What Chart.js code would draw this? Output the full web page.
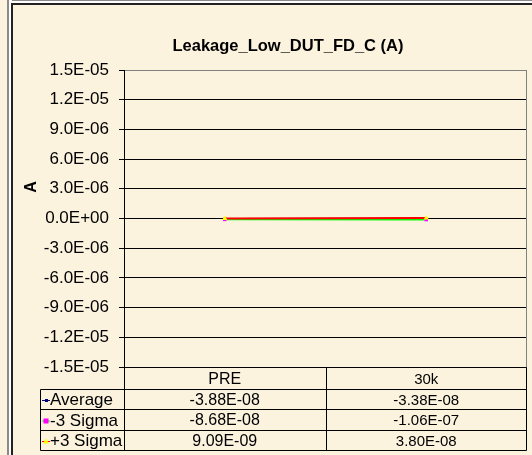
<!DOCTYPE html>
<html>
<head>
<meta charset="utf-8">
<script src="https://cdn.jsdelivr.net/npm/chart.js@4"></script>
<style>
  html, body { margin: 0; padding: 0; background: #fcf3df; }
  #wrap { width: 532px; height: 455px; }
</style>
</head>
<body>
<div id="wrap"><canvas id="chart" width="532" height="455"></canvas></div>
<script>
// Chart data
const categories = ['PRE', '30k'];
const average = [-3.88e-8, -3.38e-8];
const minus3Sigma = [-8.68e-8, -1.06e-7];
const plus3Sigma = [9.09e-9, 3.80e-8];
const yTicks = [-1.5e-5, -1.2e-5, -9e-6, -6e-6, -3e-6, 0, 3e-6, 6e-6, 9e-6, 1.2e-5, 1.5e-5];
const chartTitle = 'Leakage_Low_DUT_FD_C (A)';
const yTitle = 'A';

const FONT = '"Liberation Sans", Arial, sans-serif';
const BG = '#fcf3df';

// 1.5E-05 style, exponent with two digits
function sci(v, digits) {
  const s = Number(v).toExponential(digits).toUpperCase();
  return s.replace(/E([+-])(\d)$/, 'E$10$2');
}

const series = [
  { label: 'Average', data: average, line: '#000080', point: '#000080', style: 'rect', r: 1.5, order: 3 },
  { label: '-3 Sigma', data: minus3Sigma, line: '#00ff00', point: '#ff00ff', style: 'rect', r: 2.5, order: 2 },
  { label: '+3 Sigma', data: plus3Sigma, line: '#ff0000', point: '#ffff00', style: 'triangle', r: 3, order: 1 }
];

// Frame, title and data table
const framePlugin = {
  id: 'frame',
  beforeDraw(chart) {
    const ctx = chart.ctx;
    ctx.save();
    ctx.fillStyle = BG;
    ctx.fillRect(0, 0, chart.width, chart.height);
    ctx.fillStyle = '#ffffff';
    ctx.fillRect(9, 0, 2, chart.height);
    ctx.fillStyle = '#8a8a8a';
    ctx.fillRect(7, 0, 2, chart.height);
    ctx.fillRect(12, 0, chart.width - 12, 1);
    ctx.fillStyle = '#ffffff';
    ctx.fillRect(12, 1, chart.width - 12, 2);
    ctx.fillStyle = '#222222';
    ctx.fillRect(11, 3, 2, chart.height - 3);
    ctx.fillRect(11, 3, chart.width - 11, 2);
    ctx.restore();
  },
  afterDraw(chart) {
    const ctx = chart.ctx;
    const area = chart.chartArea;
    const x = chart.scales.x;
    ctx.save();

    // title
    ctx.fillStyle = '#000';
    ctx.font = 'bold 16.5px ' + FONT;
    ctx.textAlign = 'center';
    ctx.textBaseline = 'middle';
    ctx.fillText(chartTitle, 288, 46);

    // y axis title
    ctx.save();
    ctx.font = 'bold 16px ' + FONT;
    ctx.translate(32, 187);
    ctx.rotate(-Math.PI / 2);
    ctx.fillText(yTitle, 0, 0);
    ctx.restore();

    const L = Math.round(area.left) + 0.5;
    const R = Math.round(area.right) - 0.5;
    const top = Math.round(area.top) + 0.5;
    const bottom = Math.round(area.bottom) + 0.5;

    // plot area right edge
    ctx.strokeStyle = '#808080';
    ctx.lineWidth = 1;
    ctx.beginPath();
    ctx.moveTo(R, top);
    ctx.lineTo(R, bottom);
    ctx.stroke();

    // data table
    const rows = [bottom, bottom + 22, bottom + 42, bottom + 63, bottom + 83];
    const c0 = x.getPixelForValue(0);
    const c1 = x.getPixelForValue(1);
    const mid = Math.round((c0 + c1) / 2) + 0.5;
    const keyLeft = 40.5;

    ctx.strokeStyle = '#000';
    ctx.beginPath();
    for (let i = 1; i < rows.length; i++) {
      ctx.moveTo(keyLeft, rows[i]);
      ctx.lineTo(R, rows[i]);
    }
    [L, mid, R].forEach(px => {
      ctx.moveTo(px, rows[0]);
      ctx.lineTo(px, rows[4]);
    });
    ctx.moveTo(keyLeft, rows[1]);
    ctx.lineTo(keyLeft, rows[4]);
    ctx.stroke();

    const colFonts = ['16px ' + FONT, '15px ' + FONT];
    const centers = [c0, c1];
    ctx.fillStyle = '#000';
    ctx.textAlign = 'center';
    categories.forEach((cat, i) => {
      ctx.font = colFonts[i];
      ctx.fillText(cat, centers[i], (rows[0] + rows[1]) / 2 + 1);
    });

    series.forEach((s, r) => {
      const cy = (rows[r + 1] + rows[r + 2]) / 2 + 1;
      // legend key
      ctx.strokeStyle = s.line;
      ctx.lineWidth = 1;
      ctx.beginPath();
      ctx.moveTo(42, cy);
      ctx.lineTo(50, cy);
      ctx.stroke();
      ctx.fillStyle = s.point;
      if (s.style === 'triangle') {
        ctx.beginPath();
        ctx.moveTo(46, cy - 3);
        ctx.lineTo(49, cy + 2);
        ctx.lineTo(43, cy + 2);
        ctx.closePath();
        ctx.fill();
      } else if (s.r > 2) {
        ctx.fillRect(43.5, cy - 2.5, 5, 5);
      } else {
        ctx.fillRect(45, cy - 1.5, 3, 3);
      }
      ctx.fillStyle = '#000';
      ctx.textAlign = 'left';
      ctx.font = '17px ' + FONT;
      ctx.fillText(s.label, 50, cy);
      ctx.textAlign = 'center';
      s.data.forEach((v, i) => {
        ctx.font = colFonts[i];
        ctx.fillText(sci(v, 2), centers[i], cy);
      });
    });
    ctx.restore();
  }
};

new Chart(document.getElementById('chart'), {
  type: 'line',
  data: {
    labels: categories,
    datasets: series.map(s => ({
      label: s.label,
      data: s.data,
      order: s.order,
      borderColor: s.line,
      borderWidth: 2,
      backgroundColor: s.point,
      pointBackgroundColor: s.point,
      pointBorderColor: s.point,
      pointStyle: s.style,
      pointRadius: s.r,
      pointBorderWidth: 0,
      tension: 0,
      fill: false
    }))
  },
  options: {
    responsive: false,
    animation: false,
    devicePixelRatio: 1,
    layout: { padding: { left: 12, right: 5, top: 70, bottom: 88 } },
    plugins: {
      legend: { display: false },
      tooltip: { enabled: false },
      title: { display: false }
    },
    scales: {
      x: {
        type: 'category',
        display: false,
        offset: true
      },
      y: {
        min: -1.5e-5,
        max: 1.5e-5,
        afterFit(scale) { scale.width = 112; },
        afterBuildTicks(scale) { scale.ticks = yTicks.map(v => ({ value: v })); },
        border: { display: true, color: '#000', width: 1 },
        grid: {
          color: c => (c.index === yTicks.length - 1 ? '#808080' : '#000'),
          lineWidth: 1,
          drawTicks: true,
          tickLength: 5,
          tickColor: '#000'
        },
        ticks: {
          color: '#000',
          padding: 10,
          font: { family: FONT, size: 17 },
          callback: v => sci(v, 1)
        }
      }
    }
  },
  plugins: [framePlugin]
});
</script>
</body>
</html>
